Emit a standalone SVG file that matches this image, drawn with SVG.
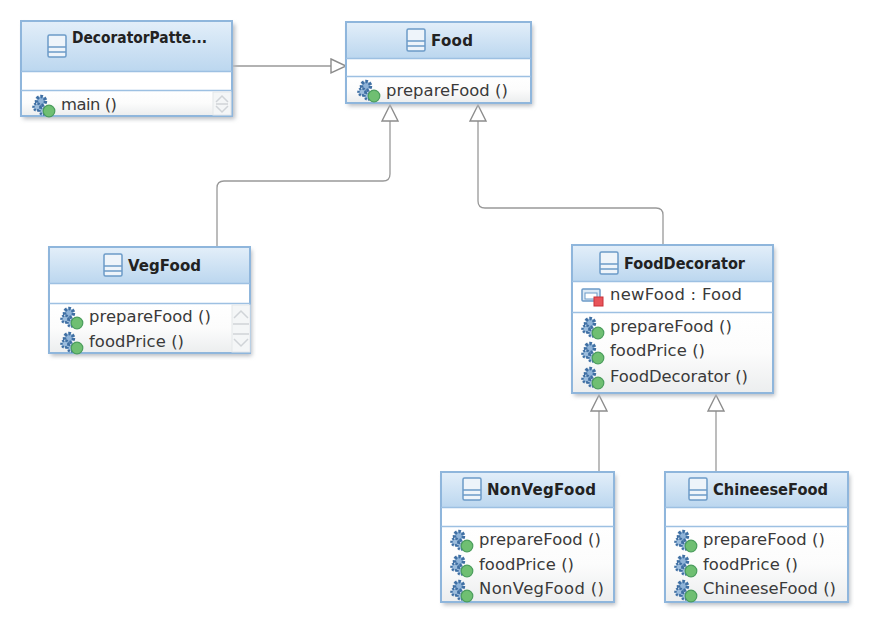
<svg xmlns="http://www.w3.org/2000/svg" width="876" height="640" viewBox="0 0 876 640">
<style>
.box{fill:#fff;stroke:#8fb6dc;stroke-width:2}
.head{fill:url(#hg)}
.foot{fill:url(#fg)}
.sep{stroke:#9dc0e2;stroke-width:1.5;fill:none}
.shadow{fill:#b8bcc2;filter:url(#blur)}
.t{font-family:"DejaVu Sans",sans-serif;font-size:16.4px;fill:#3a3a3a}
.b{font-family:"DejaVu Sans",sans-serif;font-size:15px;font-weight:700;fill:#222}
.c{fill:none;stroke:#999;stroke-width:1.3}
.a{fill:#fff;stroke:#8c8c8c;stroke-width:1.4}
.sb{fill:#f4f6f7;stroke:#e4e7ea;stroke-width:1}
.ch{fill:none;stroke:#d0d4d8;stroke-width:1.5}
</style>
<defs>
<linearGradient id="hg" x1="0" y1="0" x2="0" y2="1"><stop offset="0" stop-color="#e2eef9"/><stop offset="1" stop-color="#bcd7ef"/></linearGradient>
<linearGradient id="fg" x1="0" y1="0" x2="0" y2="1"><stop offset="0" stop-color="#fff"/><stop offset="0.5" stop-color="#fcfcfc"/><stop offset="1" stop-color="#eceeef"/></linearGradient>
<filter id="blur" x="-10%" y="-10%" width="120%" height="120%"><feGaussianBlur stdDeviation="2"/></filter>
<symbol id="cls" width="20" height="24" viewBox="0 0 20 24" overflow="visible">
<rect x="1" y="1" width="18" height="22" rx="1.500" fill="#eef4fa" stroke="#6c9bc8" stroke-width="1.500"/>
<path d="M1 13H19M1 18H19" stroke="#6c9bc8" stroke-width="1.500"/>
</symbol>
<symbol id="m" width="24" height="24" viewBox="0 0 24 24" overflow="visible">
<circle cx="9" cy="7" r="4.500" fill="#8fb3d8" stroke="#3f6fa3" stroke-width="3.500" stroke-dasharray="2.500 1.500"/>
<circle cx="5" cy="13" r="3.500" fill="#9cbcdc" stroke="#3f6fa3" stroke-width="2.500" stroke-dasharray="2 1.300"/>
<circle cx="11" cy="17" r="3.500" fill="#9cbcdc" stroke="#3f6fa3" stroke-width="2.500" stroke-dasharray="2 1.300"/>
<circle cx="17" cy="17" r="5.800" fill="#6fbf72" stroke="#4a9d5c" stroke-width="1.200"/>
</symbol>
<symbol id="f" width="24" height="22" viewBox="0 0 24 22" overflow="visible">
<rect x="1" y="1" width="18" height="12" rx="1" fill="#dce9f5" stroke="#6c9bc8" stroke-width="1.500"/>
<rect x="4" y="5" width="12" height="6" fill="#fff" stroke="#6c9bc8" stroke-width="1"/>
<rect x="13" y="9" width="9" height="9" fill="#e8545a" stroke="#c93038" stroke-width="1"/>
</symbol>
</defs>

<g id="connectors">
<path class="c" d="M233 66H332"/>
<path class="a" d="M331 59L346 66L331 73Z"/>
<path class="c" d="M390 121V174Q390 181 383 181H224Q217 181 217 188V247"/>
<path class="a" d="M382 121L390 105L398 121Z"/>
<path class="c" d="M478 121V201Q478 208 485 208H656Q663 208 663 215V245"/>
<path class="a" d="M470 121L478 105L486 121Z"/>
<path class="c" d="M599 411V472"/>
<path class="a" d="M591 411L599 395L607 411Z"/>
<path class="c" d="M716 411V472"/>
<path class="a" d="M708 411L716 395L724 411Z"/>
</g>

<g id="decoratorpattern">
<rect class="shadow" x="23" y="24" width="212" height="95"/>
<rect class="box" x="21" y="21" width="211" height="95"/>
<rect class="head" x="22" y="22" width="209" height="49"/>
<rect class="foot" x="22" y="91" width="209" height="24"/>
<path class="sep" d="M21 71.500H232M21 90.500H232"/>
<rect class="sb" x="213" y="92" width="18" height="23"/>
<path class="ch" d="M216 102L222 96L228 102M216 106L222 112L228 106M216 104H228"/>
<use href="#cls" x="47" y="34"/>
<text class="b" x="72" y="43" textLength="135" lengthAdjust="spacingAndGlyphs">DecoratorPatte...</text>
<use href="#m" x="32" y="94"/>
<text class="t" x="61" y="110" textLength="56">main ()</text>
</g>

<g id="food">
<rect class="shadow" x="348" y="25" width="185" height="81"/>
<rect class="box" x="346" y="22" width="185" height="81"/>
<rect class="head" x="347" y="23" width="183" height="35"/>
<rect class="foot" x="347" y="77" width="183" height="25"/>
<path class="sep" d="M346 58.500H531M346 76.500H531"/>
<use href="#cls" x="406" y="28"/>
<text class="b" x="431" y="46" textLength="42">Food</text>
<use href="#m" x="357" y="79"/>
<text class="t" x="386" y="96" textLength="122">prepareFood ()</text>
</g>

<g id="vegfood">
<rect class="shadow" x="51" y="250" width="201" height="106"/>
<rect class="box" x="49" y="247" width="201" height="106"/>
<rect class="head" x="50" y="248" width="199" height="35"/>
<rect class="foot" x="50" y="304" width="199" height="48"/>
<path class="sep" d="M49 283.500H250M49 303.500H250"/>
<rect class="sb" x="232" y="305" width="18" height="47"/>
<path class="ch" d="M234 318L241 311L248 318M234 339L241 346L248 339M233 324H249M233 334H249"/>
<use href="#cls" x="103" y="253"/>
<text class="b" x="128" y="271" textLength="73">VegFood</text>
<use href="#m" x="60" y="306"/>
<text class="t" x="89" y="322" textLength="122">prepareFood ()</text>
<use href="#m" x="60" y="331"/>
<text class="t" x="89" y="347" textLength="95">foodPrice ()</text>
</g>

<g id="fooddecorator">
<rect class="shadow" x="574" y="248" width="201" height="148"/>
<rect class="box" x="572" y="245" width="201" height="148"/>
<rect class="head" x="573" y="246" width="199" height="35"/>
<rect class="foot" x="573" y="313" width="199" height="79"/>
<path class="sep" d="M572 281.500H773M572 312.500H773"/>
<use href="#cls" x="599" y="251"/>
<text class="b" x="624" y="269" textLength="121" lengthAdjust="spacingAndGlyphs">FoodDecorator</text>
<use href="#f" x="581" y="288"/>
<text class="t" x="610" y="300" textLength="132">newFood : Food</text>
<use href="#m" x="581" y="316"/>
<text class="t" x="610" y="332" textLength="122">prepareFood ()</text>
<use href="#m" x="581" y="341"/>
<text class="t" x="610" y="356" textLength="95">foodPrice ()</text>
<use href="#m" x="581" y="366"/>
<text class="t" x="610" y="382" textLength="138">FoodDecorator ()</text>
</g>

<g id="nonvegfood">
<rect class="shadow" x="443" y="475" width="173" height="130"/>
<rect class="box" x="441" y="472" width="173" height="130"/>
<rect class="head" x="442" y="473" width="171" height="34"/>
<rect class="foot" x="442" y="527" width="171" height="74"/>
<path class="sep" d="M441 507.500H614M441 526.500H614"/>
<use href="#cls" x="462" y="477"/>
<text class="b" x="487" y="495" textLength="109">NonVegFood</text>
<use href="#m" x="450" y="529"/>
<text class="t" x="479" y="545" textLength="122">prepareFood ()</text>
<use href="#m" x="450" y="554"/>
<text class="t" x="479" y="570" textLength="95">foodPrice ()</text>
<use href="#m" x="450" y="579"/>
<text class="t" x="479" y="594" textLength="125">NonVegFood ()</text>
</g>

<g id="chineesefood">
<rect class="shadow" x="667" y="475" width="183" height="130"/>
<rect class="box" x="665" y="472" width="183" height="130"/>
<rect class="head" x="666" y="473" width="181" height="34"/>
<rect class="foot" x="666" y="527" width="181" height="74"/>
<path class="sep" d="M665 507.500H848M665 526.500H848"/>
<use href="#cls" x="688" y="477"/>
<text class="b" x="713" y="495" textLength="115" lengthAdjust="spacingAndGlyphs">ChineeseFood</text>
<use href="#m" x="674" y="529"/>
<text class="t" x="703" y="545" textLength="122">prepareFood ()</text>
<use href="#m" x="674" y="554"/>
<text class="t" x="703" y="570" textLength="95">foodPrice ()</text>
<use href="#m" x="674" y="579"/>
<text class="t" x="703" y="594" textLength="133">ChineeseFood ()</text>
</g>
</svg>
